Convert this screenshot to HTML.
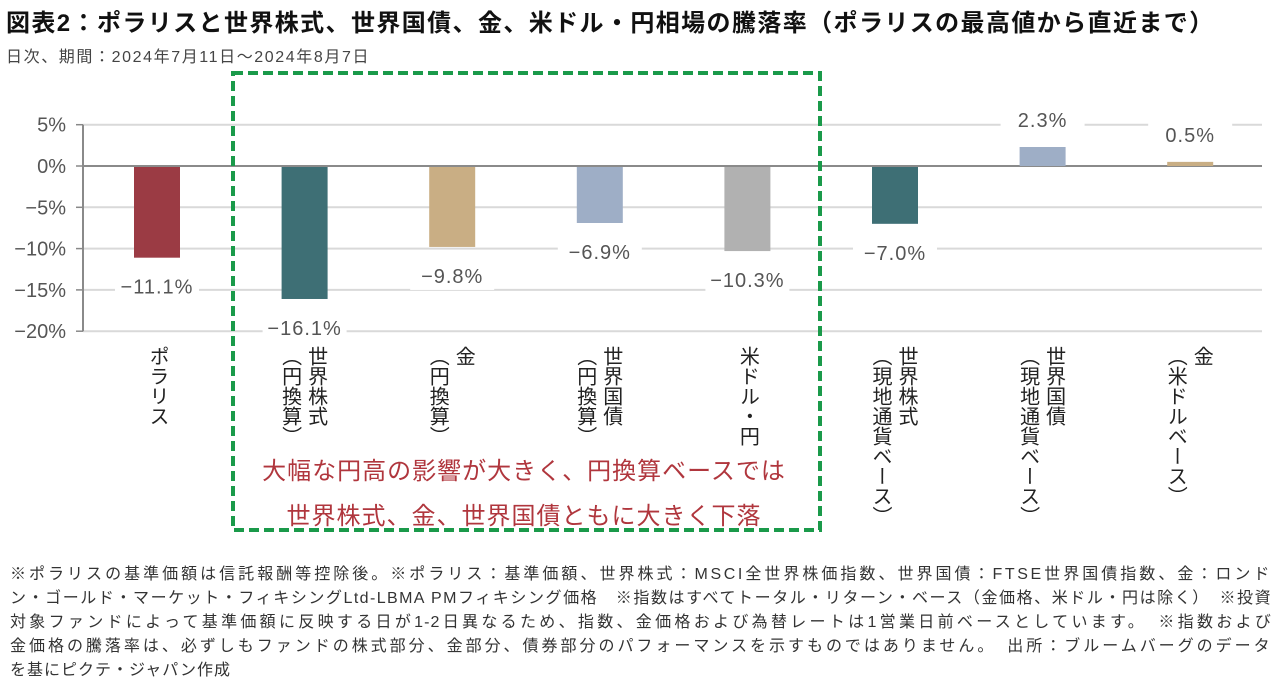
<!DOCTYPE html>
<html><head><meta charset="utf-8">
<style>
body{margin:0;width:1280px;height:691px;background:#fff;overflow:hidden;font-family:"Liberation Sans","Noto Sans CJK JP",sans-serif;position:relative}
.t{position:absolute;white-space:nowrap}
.fl{width:1262px;height:24px;text-align:justify;text-align-last:justify;white-space:nowrap;overflow:hidden}
</style></head><body>
<div class="t" style="left:6px;top:3px;font-size:24px;font-weight:bold;color:#111;letter-spacing:1.4px">図表2：ポラリスと世界株式、世界国債、金、米ドル・円相場の騰落率（ポラリスの最高値から直近まで）</div>
<div class="t" style="left:6px;top:43px;font-size:16px;color:#444;letter-spacing:1.6px">日次、期間：2024年7月11日～2024年8月7日</div>
<svg id="chart" width="1280" height="691" style="position:absolute;left:0;top:0"></svg>
<div class="t" style="left:10px;top:563px;font-size:16px;line-height:24px;color:#333;letter-spacing:1px">
<div class="fl" style="letter-spacing:2.6px">※ポラリスの基準価額は信託報酬等控除後。※ポラリス：基準価額、世界株式：MSCI全世界株価指数、世界国債：FTSE世界国債指数、金：ロンド</div>
<div class="fl" style="letter-spacing:1.4px">ン・ゴールド・マーケット・フィキシングLtd-LBMA PMフィキシング価格　※指数はすべてトータル・リターン・ベース（金価格、米ドル・円は除く）　※投資</div>
<div class="fl" style="letter-spacing:1.1px">対象ファンドによって基準価額に反映する日が1-2日異なるため、指数、金価格および為替レートは1営業日前ベースとしています。　※指数および</div>
<div class="fl" style="letter-spacing:2.4px">金価格の騰落率は、必ずしもファンドの株式部分、金部分、債券部分のパフォーマンスを示すものではありません。　出所：ブルームバーグのデータ</div>
<div style="height:24px">を基にピクテ・ジャパン作成</div>
</div>
<script>
const categories=["ポラリス","世界株式\n（円換算）","金\n（円換算）","世界国債\n（円換算）","米ドル・円","世界株式\n（現地通貨ベース）","世界国債\n（現地通貨ベース）","金\n（米ドルベース）"];
const values=[-11.1,-16.1,-9.8,-6.9,-10.3,-7.0,2.3,0.5];
const colors=["#9b3b44","#3e6f75","#c9ae84","#9eaec6","#b1b1b1","#3e6f75","#9eaec6","#c9ae84"];
const ticks=[5,0,-5,-10,-15,-20];
const NS="http://www.w3.org/2000/svg";
const svg=document.getElementById("chart");
const y0=166,ppu=41.3/5;
const y=v=>y0-v*ppu;
const x=i=>157+i*147.6;
function el(t,a){const e=document.createElementNS(NS,t);for(const k in a)e.setAttribute(k,a[k]);svg.appendChild(e);return e;}
ticks.forEach(t=>{
 const g=el("line",{x1:83,x2:1262,y1:y(t),y2:y(t),stroke:t===0?"#8a8a8a":"#d9d9d9","stroke-width":2});
 
 
 el("line",{x1:76,x2:83,y1:y(t),y2:y(t),stroke:"#888","stroke-width":1.5});
 const l=el("text",{x:66,y:y(t)+7,"text-anchor":"end","font-size":20,fill:"#555"});
 l.textContent=(t<0?"−"+(-t):t)+"%";
 
 
});
el("line",{x1:83,x2:83,y1:y(5),y2:y(-20),stroke:"#8a8a8a","stroke-width":2});
values.forEach((v,i)=>{
 const h=Math.abs(y(v)-y0);
 const r=el("rect",{x:x(i)-23,y:v<0?y0+1:y(v),width:46,height:Math.max(h-(v<0?1:0),1),fill:colors[i]});
 
 
 const s=(v<0?"−":"")+Math.abs(v).toFixed(1)+"%";
 const ly=v<0?y(v)+36:y(v)-20;
 el("rect",{x:x(i)-42,y:ly-21,width:84,height:28,fill:"#fff"});
 const t=el("text",{x:x(i),y:ly,"text-anchor":"middle","font-size":20,fill:"#555","letter-spacing":"1"});
 t.textContent=s;
 
 
 const lines=categories[i].split("\n");
 lines.forEach((ln,j)=>{
  const c=el("text",{x:x(i)+(lines.length>1?(j===0?11:-15):0),y:346,"font-size":20,fill:"#222","text-anchor":"start"});
  c.setAttribute("style","writing-mode:vertical-rl;text-orientation:upright");
  c.textContent=ln;
  
  
 });
});
const box=el("rect",{x:233,y:73,width:587,height:457,fill:"none",stroke:"#1a9a4a","stroke-width":4,"stroke-dasharray":"10 5"});


["大幅な円高の影響が大きく、円換算ベースでは","世界株式、金、世界国債ともに大きく下落"].forEach((s,i)=>{
 const t=el("text",{x:524,y:479+i*45,"text-anchor":"middle","font-size":24,fill:"#b0363d","letter-spacing":"1"});
 t.textContent=s;
 
 
});
</script>
</body></html>
